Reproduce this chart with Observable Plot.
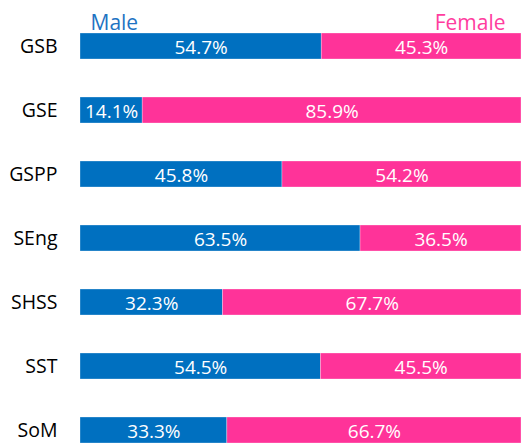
<!DOCTYPE html>
<html><head><meta charset="utf-8">
<script src="https://cdn.jsdelivr.net/npm/d3@7"></script>
<script src="https://cdn.jsdelivr.net/npm/@observablehq/plot@0.6"></script>
<style>body{margin:0;background:#fff;} svg{display:block;}</style>
</head><body><div id="chart"></div>
<script>
const schools = ["GSB", "GSE", "GSPP", "SEng", "SHSS", "SST", "SoM"];
const male = [54.7, 14.1, 45.8, 63.5, 32.3, 54.5, 33.3];
const female = [45.3, 85.9, 54.2, 36.5, 67.7, 45.5, 66.7];
const sexes = ["Male", "Female"];
const colors = ["#0070C0", "#FF3399"];

const data = [];
schools.forEach((s, i) => {
  data.push({school: s, sex: "Male", value: male[i]});
  data.push({school: s, sex: "Female", value: female[i]});
});

const font = "'Open Sans', sans-serif";
const chart = Plot.plot({
  width: 521, height: 445,
  marginLeft: 80, marginRight: 0, marginTop: 31, marginBottom: 0,
  style: {fontFamily: font, fontSize: "19px", background: "#fff"},
  x: {domain: [0, 100], axis: null},
  y: {domain: schools, paddingInner: 0.598, paddingOuter: 0, label: null, tickSize: 0, tickPadding: 23},
  color: {domain: sexes, range: colors},
  marks: [
    Plot.barX(data, Plot.stackX({x: "value", y: "school", fill: "sex", order: sexes, stroke: "#fff", strokeWidth: 0.6, strokeOpacity: 0.5})),
    Plot.text(data, Plot.stackX({x: "value", y: "school", z: "sex", order: sexes, text: d => d.value.toFixed(1) + "%", fill: "white", fontSize: 19, dy: 1})),
    Plot.axisY({tickSize: 0, tickPadding: 23, fontSize: 19.5, fill: "#000", label: null}),
    Plot.text(["Male"], {frameAnchor: "top-left", dx: 10, dy: -16, fill: "#1E73C3", fontSize: 21, textAnchor: "start"}),
    Plot.text(["Female"], {frameAnchor: "top-right", dx: -16, dy: -16, fill: "#FF3D9E", fontSize: 21, textAnchor: "end"})
  ]
});
document.getElementById("chart").appendChild(chart);
</script>
</body></html>
